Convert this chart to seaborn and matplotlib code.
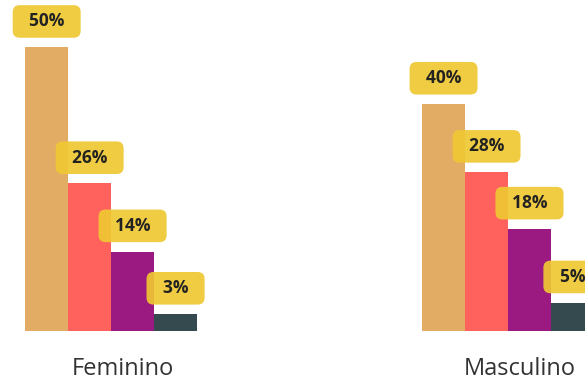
import matplotlib
matplotlib.use("Agg")
import matplotlib.pyplot as plt
from matplotlib.transforms import ScaledTranslation
import pandas as pd
import seaborn as sns

generos = ["Feminino", "Masculino"]
faixas = ["Faixa 1", "Faixa 2", "Faixa 3", "Faixa 4"]
feminino = [50, 26, 14, 3]
masculino = [40, 28, 18, 5]
cores = ["#E2AC64", "#FF625D", "#9B1A81", "#354A4E"]

df = pd.DataFrame({
    "genero": [g for g in generos for _ in faixas],
    "faixa": faixas * 2,
    "pct": feminino + masculino,
})

sns.set_style("white")
plt.rcParams["font.family"] = ["Open Sans", "DejaVu Sans"]

fig = plt.figure(figsize=(5.85, 3.81), dpi=100)
ax = fig.add_axes([0, 50 / 381, 1, 331 / 381])

sns.barplot(data=df, x="genero", y="pct", hue="faixa", order=generos,
            hue_order=faixas, palette=cores, width=0.433, saturation=1,
            linewidth=0, legend=False, ax=ax)

# yellow rounded value boxes
for cont in ax.containers:
    ax.bar_label(cont, labels=[f"  {v:.0f}%  " for v in cont.datavalues],
                 padding=12, fontsize=12.5, fontweight="bold", color="#222222",
                 bbox=dict(boxstyle="round,pad=0.42,rounding_size=0.4",
                           fc="#EFC833", ec="none", alpha=0.92))

ax.set_xlim(-0.28, 1.194)
ax.set_ylim(0, 58.3)
sns.despine(ax=ax, left=True, bottom=True)
ax.set_yticks([])
ax.set_xlabel("")
ax.set_ylabel("")
ax.tick_params(axis="x", length=0, pad=19, labelsize=17, labelcolor="#333333")
# the category names sit a little right of the bar groups
for lab in ax.get_xticklabels():
    lab.set_transform(lab.get_transform() + ScaledTranslation(0.12, 0, fig.dpi_scale_trans))

fig.savefig("out.png", dpi=100)
